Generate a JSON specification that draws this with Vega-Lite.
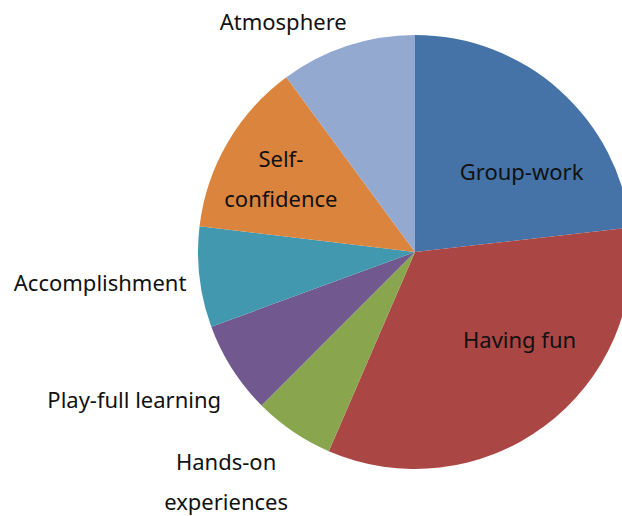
{
  "$schema": "https://vega.github.io/schema/vega-lite/v6.json",
  "width": 622,
  "height": 516,
  "autosize": {"type": "none"},
  "padding": 0,
  "background": "white",
  "view": {"stroke": null},
  "config": {"text": {"font": "Noto Sans", "fontSize": 22, "color": "#111111", "baseline": "middle", "align": "center", "lineHeight": 40}},
  "data": {"values": [
    {"category": "Group-work", "value": 23.2},
    {"category": "Having fun", "value": 33.3},
    {"category": "Hands-on experiences", "value": 6.0},
    {"category": "Play-full learning", "value": 6.9},
    {"category": "Accomplishment", "value": 7.5},
    {"category": "Self-confidence", "value": 13.0},
    {"category": "Atmosphere", "value": 10.1}
  ]},
  "transform": [{"window": [{"op": "row_number", "as": "idx"}]}],
  "encoding": {
    "theta": {"field": "value", "type": "quantitative", "stack": true},
    "order": {"field": "idx", "type": "quantitative"}
  },
  "layer": [
    {
      "mark": {"type": "arc", "outerRadius": 217, "x": 415, "y": 252},
      "encoding": {
        "color": {"field": "category", "type": "nominal", "legend": null,
          "scale": {"domain": ["Group-work", "Having fun", "Hands-on experiences", "Play-full learning", "Accomplishment", "Self-confidence", "Atmosphere"],
                    "range": ["#4572A7", "#AA4643", "#89A54E", "#71588F", "#4198AF", "#DB843D", "#93A9CF"]}}
      }
    },
    {
      "mark": {"type": "text", "x": 415, "y": 252, "radius": 130, "dx": 20, "dy": 18},
      "encoding": {"text": {"condition": {"test": "datum.category === 'Group-work'", "value": "Group-work"}, "value": ""}}
    },
    {
      "mark": {"type": "text", "x": 415, "y": 252, "radius": 137, "dx": 23, "dy": -21},
      "encoding": {"text": {"condition": {"test": "datum.category === 'Having fun'", "value": "Having fun"}, "value": ""}}
    },
    {
      "mark": {"type": "text", "x": 415, "y": 252, "radius": 146, "dx": -8, "dy": -18},
      "encoding": {"text": {"condition": {"test": "datum.category === 'Self-confidence'", "value": ["Self-", "confidence"]}, "value": ""}}
    },
    {
      "mark": {"type": "text", "x": 415, "y": 252, "radius": 243, "dx": -56, "dy": 2},
      "encoding": {"text": {"condition": {"test": "datum.category === 'Atmosphere'", "value": "Atmosphere"}, "value": ""}}
    },
    {
      "mark": {"type": "text", "x": 415, "y": 252, "radius": 310, "dx": -7, "dy": -4},
      "encoding": {"text": {"condition": {"test": "datum.category === 'Accomplishment'", "value": "Accomplishment"}, "value": ""}}
    },
    {
      "mark": {"type": "text", "x": 415, "y": 252, "radius": 300, "dx": -28, "dy": -13},
      "encoding": {"text": {"condition": {"test": "datum.category === 'Play-full learning'", "value": "Play-full learning"}, "value": ""}}
    },
    {
      "mark": {"type": "text", "x": 415, "y": 252, "radius": 272, "dx": -36, "dy": -14},
      "encoding": {"text": {"condition": {"test": "datum.category === 'Hands-on experiences'", "value": ["Hands-on", "experiences"]}, "value": ""}}
    }
  ]
}
